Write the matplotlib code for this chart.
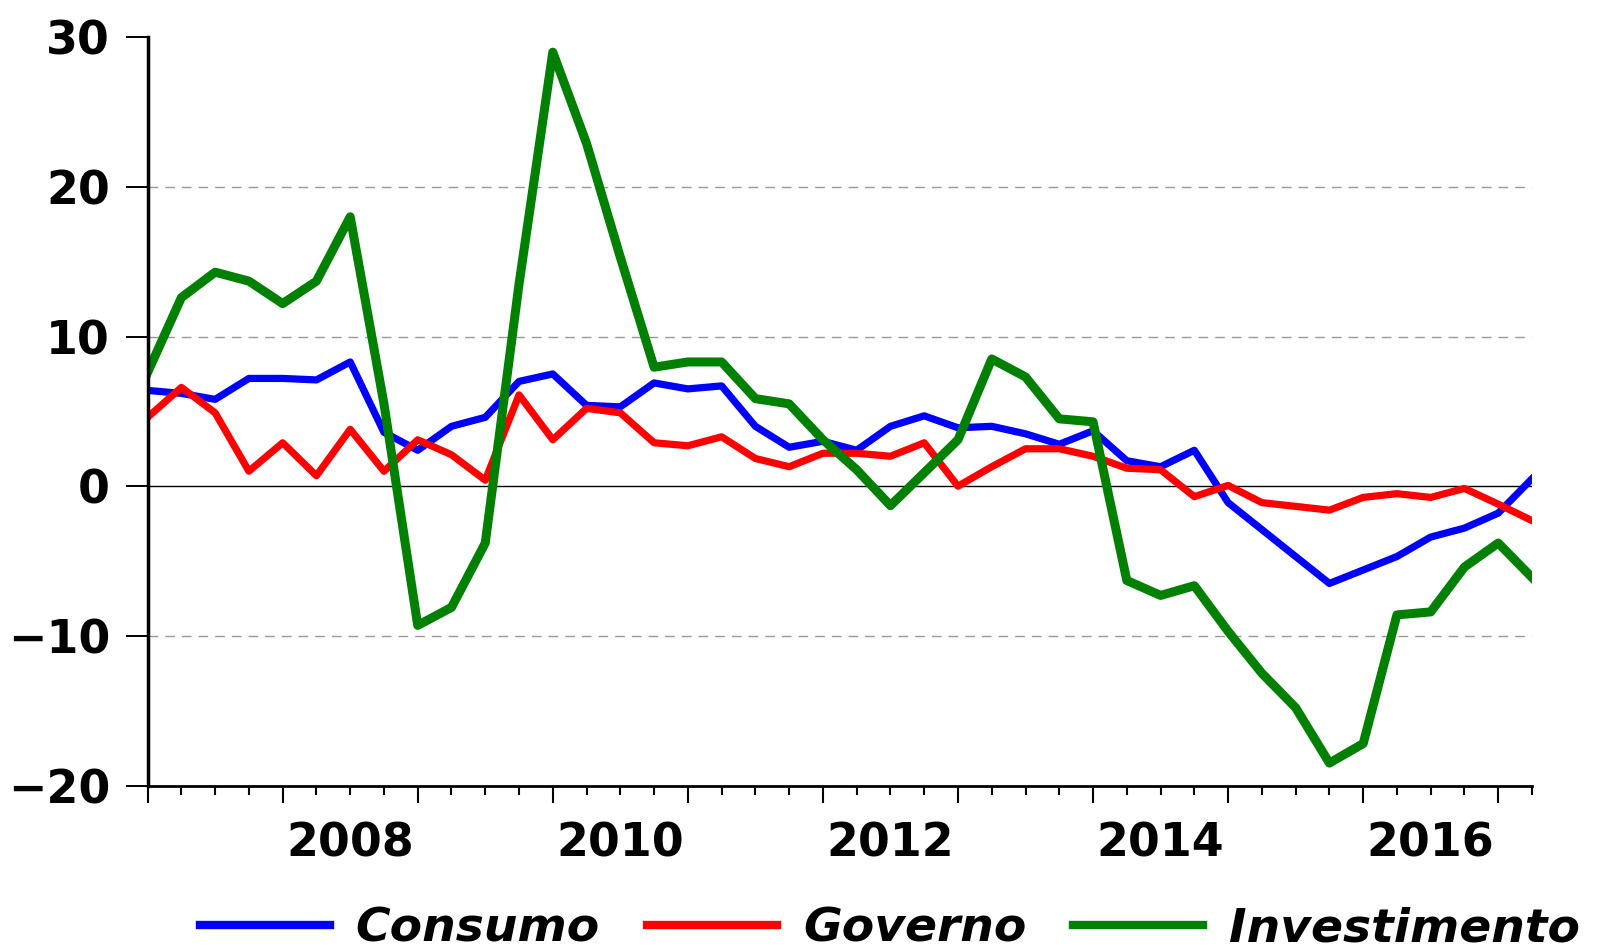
import numpy as np
import matplotlib
matplotlib.use("Agg")
import matplotlib.pyplot as plt

# quarterly growth rates, 2007Q1 .. 2017Q2
quarters = [f"{y}Q{q}" for y in range(2007, 2018) for q in range(1, 5)][:42]

consumo = [6.4, 6.2, 5.8, 7.2, 7.2, 7.1, 8.3, 3.6, 2.4, 4.0, 4.6,
           7.0, 7.5, 5.4, 5.3, 6.9, 6.5, 6.7, 4.0, 2.6, 3.0,
           2.4, 4.0, 4.7, 3.9, 4.0, 3.5, 2.8, 3.7, 1.7, 1.3,
           2.4, -1.1, -2.9, -4.7, -6.5, -5.6, -4.7, -3.4, -2.8, -1.8, 0.5]
governo = [4.6, 6.6, 4.9, 1.0, 2.9, 0.7, 3.8, 1.0, 3.1, 2.1, 0.4,
           6.1, 3.1, 5.2, 4.9, 2.9, 2.7, 3.3, 1.85, 1.3, 2.2,
           2.2, 2.0, 2.9, 0.0, 1.3, 2.5, 2.5, 2.0, 1.2, 1.1,
           -0.7, 0.05, -1.1, -1.35, -1.6, -0.75, -0.5, -0.75, -0.15, -1.2, -2.3]
investimento = [7.6, 12.6, 14.3, 13.7, 12.2, 13.7, 18.0, 5.5, -9.3, -8.1, -3.8,
                13.5, 29.0, 22.9, 15.3, 7.95, 8.3, 8.3, 5.85, 5.5, 3.1,
                1.1, -1.3, 0.9, 3.1, 8.5, 7.3, 4.5, 4.3, -6.3, -7.3,
                -6.65, -9.7, -12.5, -14.8, -18.5, -17.2, -8.6, -8.4, -5.4, -3.8, -6.1]

series_names = ["Consumo", "Governo", "Investimento"]
colors = ["#0000ff", "#ff0000", "#008000"]
year_labels = [2008, 2010, 2012, 2014, 2016]
y_ticks = [-20, -10, 0, 10, 20, 30]

# quarter strings -> decimal year
x = np.array([int(q[:4]) + (int(q[-1]) - 1) / 4 for q in quarters])

fig = plt.figure(figsize=(16.18, 9.5), dpi=100)
ax = fig.add_axes([147.6 / 1618, 1 - 785.5 / 950, (1532 - 147.6) / 1618, (785.5 - 37.2) / 950])

# grid
for v in [-10, 10, 20]:
    ax.axhline(v, color="#999999", lw=1.0, dashes=(7, 5), zorder=1)
ax.axhline(0, color="black", lw=1.0, zorder=1)

widths = [5.2, 5.2, 6.5]
for data, name, c, w in zip([consumo, governo, investimento], series_names, colors, widths):
    ax.plot(x, data, color=c, lw=w, label=name, solid_joinstyle="round", zorder=2)

ax.set_xlim(x[0], x[-1])
ax.set_ylim(-20, 30)

for s in ["top", "right"]:
    ax.spines[s].set_visible(False)
ax.spines["left"].set_linewidth(2.5)
ax.spines["bottom"].set_linewidth(2.0)

ax.set_yticks(y_ticks)
ax.tick_params(axis="y", length=16, width=1.4, pad=11, labelsize=33)
for lab in ax.get_yticklabels():
    lab.set_fontweight("bold")

ax.set_xticks(np.arange(2007, 2018))
ax.set_xticks(x, minor=True)
ax.tick_params(axis="x", which="major", length=12, width=1.5, labelbottom=False)
ax.tick_params(axis="x", which="minor", length=6.5, width=1.5)

sec = ax.secondary_xaxis("bottom")
sec.set_xticks([y + 0.5 for y in year_labels])
sec.set_xticklabels([str(y) for y in year_labels], fontsize=33, fontweight="bold")
sec.tick_params(length=0, pad=26)
sec.spines["bottom"].set_visible(False)

leg = fig.legend(loc="center", bbox_to_anchor=(890 / 1618, 1 - 929 / 950), ncol=3,
                 frameon=False, handlelength=2.75, handletextpad=0.55, columnspacing=1.0,
                 prop={"size": 34, "weight": "bold", "style": "italic"})
for h in leg.get_lines():
    h.set_linewidth(6)

fig.savefig("out.png", dpi=100)
